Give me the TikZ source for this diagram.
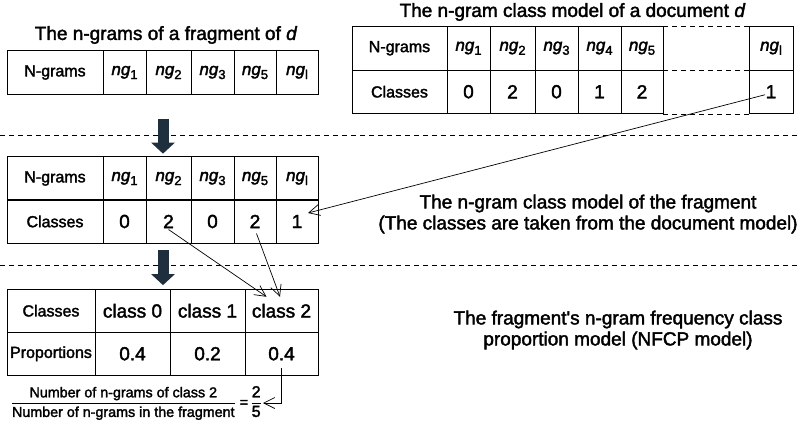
\documentclass[tikz,border=0pt]{standalone}
\usepackage{fontspec}
\setmainfont{Liberation Sans}[RawFeature={embolden=2}]
\usetikzlibrary{arrows.meta}
\definecolor{arrowdark}{RGB}{31,47,61}
\newcommand{\ngr}[1]{\textit{ng}\raisebox{-4pt}{\fontsize{13}{13}\selectfont #1}}

\begin{document}
\begin{tikzpicture}[x=1pt, y=-1pt,
    cell/.style={draw, line width=0.8pt, minimum height=43.5pt, inner sep=0pt},
    rowname/.style={font=\fontsize{16}{18}\selectfont},
    ngname/.style={font=\fontsize{17}{19}\selectfont},
    value/.style={font=\fontsize{19}{21}\selectfont},
    heading/.style={font=\fontsize{19}{21}\selectfont, align=center},
    sep/.style={dash pattern=on 5pt off 4pt, line width=0.8pt},
    down arrow/.style={line width=11pt, arrowdark, -{Triangle[length=11pt,width=23pt]}},
    link/.style={line width=0.7pt, -{Straight Barb[length=11pt,width=11pt]}}]

\useasboundingbox (0,0) rectangle (800,424);

% headings
\node[heading] (t-frag) at (166,35) {The n-grams of a fragment of \textit{d}};
\node[heading] (t-doc) at (572.5,12) {The n-gram class model of a document \textit{d}};
\node[heading] (t-fmodel) at (588,214) {The n-gram class model of the fragment\\(The classes are taken from the document model)};
\node[heading] (t-nfcp) at (618,330) {The fragment\textquotesingle s n-gram frequency class\\proportion model (NFCP model)};

% n-grams of the fragment
\node[cell, rowname, minimum width=96] (fr-n1) at (55,72.5) {N-grams};
\foreach \x/\w/\t [count=\i from 2] in {124.5/43/1, 168.5/45/2, 212.5/43/3, 255/42/5, 297/42/l}
    \node[cell, ngname, minimum width=\w] (fr-n\i) at (\x,72.5) {\ngr{\t}};

% class model of the document
\node[cell, rowname, minimum width=95] (dm-n1) at (399.5,48.25) {N-grams};
\node[cell, rowname, minimum width=95] (dm-c1) at (399.5,91.75) {Classes};
\foreach \x/\w/\t/\c [count=\i from 2] in {468.5/43/1/0, 512.5/45/2/2, 556.5/43/3/0,
        599.5/43/4/1, 642/42/5/2, 771/44/l/1}{
    \node[cell, ngname, minimum width=\w] (dm-n\i) at (\x,48.25) {\ngr{\t}};
    \node[cell, value, minimum width=\w] (dm-c\i) at (\x,91.75) {\c};
}
\draw[sep] (dm-n6.north east) -- (dm-n7.north west)
           (dm-n6.south east) -- (dm-n7.south west)
           (dm-c6.south east) -- (dm-c7.south west);

% class model of the fragment
\node[cell, rowname, minimum width=96] (fm-n1) at (55,178.5) {N-grams};
\node[cell, rowname, minimum width=96] (fm-c1) at (55,221.5) {Classes};
\foreach \x/\w/\t/\c [count=\i from 2] in {124.5/43/1/0, 168.5/45/2/2, 212.5/43/3/0,
        255/42/5/2, 297/42/l/1}{
    \node[cell, ngname, minimum width=\w] (fm-n\i) at (\x,178.5) {\ngr{\t}};
    \node[cell, value, minimum width=\w] (fm-c\i) at (\x,221.5) {\c};
}

% NFCP model
\node[cell, rowname, minimum width=88] (np-c1) at (51,310.75) {Classes};
\node[cell, rowname, minimum width=88] (np-p1) at (51,353.75) {Proportions};
\foreach \x/\w/\c/\p [count=\i from 2] in {132.5/75/0/0.4, 207.5/75/1/0.2, 281.5/73/2/0.4}{
    \node[cell, value, minimum width=\w] (np-c\i) at (\x,310.75) {class \c};
    \node[cell, value, minimum width=\w] (np-p\i) at (\x,353.75) {\p};
}

\node[anchor=east, inner sep=1pt, font=\fontsize{14.3}{16}\selectfont] (ratio) at (263,403)
    {$\displaystyle\frac{\mbox{Number of n-grams of class 2}}{\mbox{Number of n-grams in the fragment}}
      \mbox{\ =\,}\frac{\mbox{\fontsize{16}{16}\selectfont 2}}{\mbox{\fontsize{16}{16}\selectfont 5}}$};

% separators
\draw[sep] (0,135) -- (800,135);
\draw[sep] (0,265) -- (800,265);

% block arrows
\draw[down arrow] ([xshift=-5.5pt,yshift=-24pt]fr-n3.south) -- ++(0,35);
\draw[down arrow] ([xshift=-5.5pt,yshift=-6.5pt]fm-c3.south) -- ++(0,35);

% links
\draw[link] ([xshift=-6pt,yshift=-3pt]dm-c7.center) -- ([xshift=11pt,yshift=8.5pt]fm-c6.center);
\draw[link] ([yshift=-8pt]fm-c3.center) -- ([xshift=-15pt,yshift=14pt]np-c4.center);
\draw[link] ([xshift=1.5pt,yshift=-12pt]fm-c5.center) -- ([xshift=-1.5pt,yshift=14pt]np-c4.center);
\draw[link] ([yshift=-14pt]np-p4.center) |- (ratio.east);

\end{tikzpicture}
\end{document}
